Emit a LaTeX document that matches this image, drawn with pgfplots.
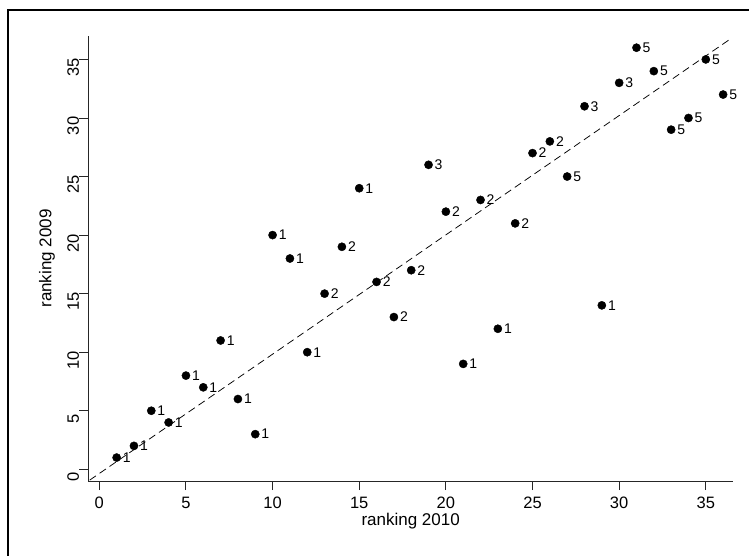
\documentclass[border=0pt]{standalone}
\usepackage{fontspec}
\setmainfont{Liberation Sans}
\usepackage{pgfplots}
\pgfplotsset{compat=1.18}
\usepackage{pgfplotstable}
\pgfplotstableread{
x y lab
1 1 1
2 2 1
3 5 1
4 4 1
5 8 1
6 7 1
7 11 1
8 6 1
9 3 1
10 20 1
11 18 1
12 10 1
13 15 2
14 19 2
15 24 1
16 16 2
17 13 2
18 17 2
19 26 3
20 22 2
21 9 1
22 23 2
23 12 1
24 21 2
25 27 2
26 28 2
27 25 5
28 31 3
29 14 1
30 33 3
31 36 5
32 34 5
33 29 5
34 30 5
35 35 5
36 32 5
}\ranking
\begin{document}
\begin{tikzpicture}[x=1pt,y=1pt]
\useasboundingbox (0,0) rectangle (749,555);
\draw[line width=2pt] (8,-10) -- (8,545) -- (760,545);
\begin{axis}[
  at={(88.3pt,74pt)}, anchor=south west,
  scale only axis, width=644.7pt, height=445pt,
  xmin=-0.635, xmax=36.57, ymin=-1, ymax=37,
  axis x line*=bottom, axis y line*=left,
  axis line style={black!85, line width=0.9pt},
  xtick={0,5,...,35}, ytick={0,5,...,35},
  tick align=outside, major tick length=9pt,
  tick style={black!85, line width=0.9pt},
  /pgf/number format/assume math mode=true,
  ticklabel style={font=\fontsize{16.5}{18}\selectfont, inner sep=0pt},
  xticklabel style={anchor=north, yshift=-7pt},
  yticklabel style={rotate=90, anchor=south, xshift=-8pt},
  xlabel={ranking 2010}, ylabel={ranking 2009},
  label style={font=\fontsize{17}{19}\selectfont, inner sep=0pt},
  xlabel style={at={(axis description cs:0.5,0)}, anchor=north, yshift=-31.5pt},
  ylabel style={at={(axis description cs:-0.0641,0.5)}, anchor=center},
  clip=false,
]
\addplot[black, line width=0.75pt, dash pattern=on 7.5pt off 4.5pt] coordinates {(-0.55,-0.92) (36.52,36.85)};
\addplot[only marks, mark=*, mark size=4.1pt, black,
  nodes near coords, point meta=explicit symbolic,
  nodes near coords align=horizontal,
  every node near coord/.append style={font=\fontsize{14}{16}\selectfont, inner sep=0pt, xshift=6pt, anchor=west}]
  table[x=x, y=y, meta=lab] {\ranking};
\end{axis}
\end{tikzpicture}
\end{document}
